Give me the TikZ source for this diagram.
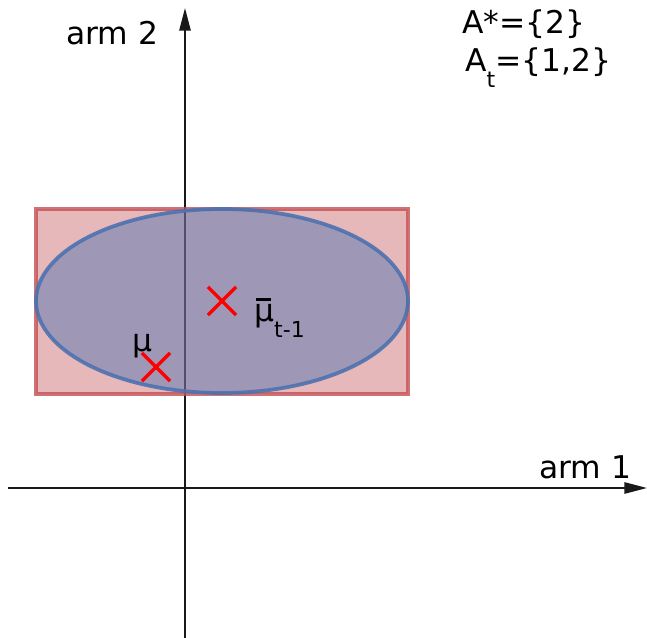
\documentclass[tikz,border=0pt]{standalone}
\usepackage{fontspec}
\setmainfont{DejaVu Sans}
\usepackage{tikz}
\usetikzlibrary{arrows.meta}
\usetikzlibrary{shapes.misc}
\definecolor{boxred}{HTML}{C44E52}
\definecolor{ellblue}{HTML}{4C72B0}
\tikzstyle{ax} = [line width=1.3pt, black!90, -{Triangle[length=17pt,width=8.5pt]}]
\tikzstyle{lbl} = [inner sep=0pt, anchor=base west, font=\fontsize{23.5}{27}\selectfont]
\tikzstyle{xmark} = [cross out, draw=red, line width=2.6pt, minimum size=18.5pt, inner sep=0pt]
\newcommand{\lowsub}[1]{\raisebox{-0.5em}{\fontsize{16.5}{16}\selectfont #1}}
\newcommand{\barmu}{\rlap{\hspace{0.06em}\rule[0.68em]{0.48em}{0.07em}}μ}

\begin{document}
\begin{tikzpicture}
				[x=0.75pt, y=-0.75pt]
				\useasboundingbox (0,0) rectangle (647,638);
				% axes
				\coordinate (xs) at (8,488);
				\coordinate (xe) at (647,488);
				\coordinate (ys) at (185,638);
				\coordinate (ye) at (185,8);
				\draw[ax] (xs) -- (xe);
				\draw[ax] (ys) -- (ye);
				% confidence box and ellipse
				\filldraw[fill=boxred, fill opacity=0.4, draw=boxred, draw opacity=0.8, line width=2.8pt]
				(36,209) rectangle (408,394);
				\filldraw[fill=ellblue, fill opacity=0.47, draw=ellblue, draw opacity=0.9, line width=2.8pt]
				(222,301) ellipse [x radius=186, y radius=92];
				% points
				\draw (222,301) node[xmark](mhat){};
				\draw (156,367) node[xmark](mtrue){};
				\draw (254,322) node[lbl](mhatl){\barmu\lowsub{t-1}};
				\draw (132,352) node[lbl](mtruel){μ};
				% labels
				\draw (66,45) node[lbl](a2){arm 2};
				\draw (539,478) node[lbl](a1){arm 1};
				\draw (462,34) node[lbl](astar){A*=\{2\}};
				\draw (465,72) node[lbl](at){A\lowsub{t}=\{1,2\}};
			\end{tikzpicture}
\end{document}
